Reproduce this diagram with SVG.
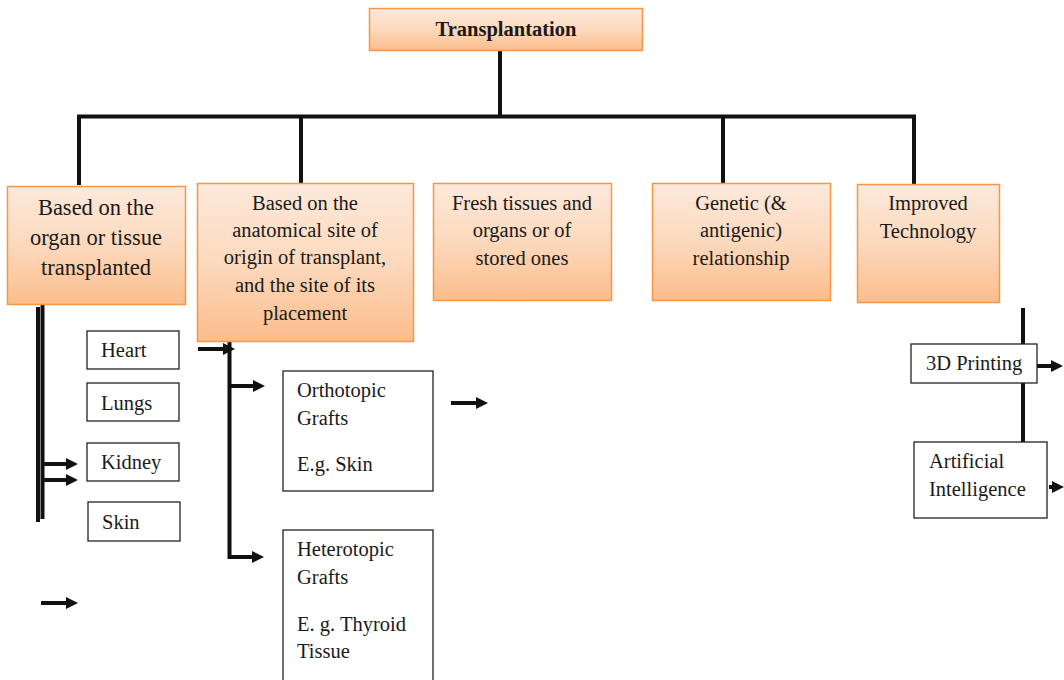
<svg xmlns="http://www.w3.org/2000/svg" width="1064" height="680" viewBox="0 0 1064 680">
<defs>
<linearGradient id="og" x1="0" y1="0" x2="0" y2="1">
<stop offset="0" stop-color="#fde9db"/>
<stop offset="0.5" stop-color="#fcd9bd"/>
<stop offset="1" stop-color="#fbbd8c"/>
</linearGradient>
<marker id="ah" markerWidth="12" markerHeight="14" refX="1" refY="7" orient="auto" markerUnits="userSpaceOnUse">
<path d="M0,1 L12,7 L0,13 Z" fill="#111"/>
</marker>
<style>
.ob{fill:url(#og);stroke:#f79646;stroke-width:1.5}
.wb{fill:#fff;stroke:#222;stroke-width:1.3}
.t{font-family:"Liberation Serif","Times New Roman",serif;fill:#1a1a1a;font-size:20.5px}
.c{text-anchor:middle}
.b1{font-size:22.5px}
.ttl{font-weight:bold;font-size:20.5px}
.ln{stroke:#111;stroke-width:4;fill:none}
.ar{stroke:#111;stroke-width:4;fill:none;marker-end:url(#ah)}
</style>
</defs>
<rect width="1064" height="680" fill="#fff"/>
<g id="connectors">
<path class="ln" d="M500,50 V116"/>
<path class="ln" d="M77,116.5 H916" stroke-width="5"/>
<path class="ln" d="M79,116 V185"/>
<path class="ln" d="M301,116 V183"/>
<path class="ln" d="M723,116 V183"/>
<path class="ln" d="M914,116 V184"/>
<path class="ln" d="M38,307 V522" stroke-width="3.5"/>
<path class="ln" d="M42.5,305 V519" stroke-width="3.5"/>
<path class="ar" d="M44,464 H67"/>
<path class="ar" d="M44,480 H67"/>
<path class="ar" d="M41,603 H67"/>
<path class="ar" d="M198,349 H224"/>
<path class="ln" d="M229.5,341 V557 H254"/>
<path class="ar" d="M250,557 H253"/>
<path class="ar" d="M230,386 H254"/>
<path class="ar" d="M451,403 H477"/>
<path class="ln" d="M1023,308 V443"/>
<path class="ar" d="M1037,366 H1052"/>
<path class="ar" d="M1049,487 H1053"/>
</g>
<g id="n-transplantation">
<rect class="ob" x="369.5" y="8.5" width="273" height="42"/>
<text class="t c ttl" x="506" y="36">Transplantation</text>
</g>
<g id="n-organ">
<rect class="ob" x="7.5" y="186.5" width="178" height="118"/>
<text class="t c b1" x="96" y="215">Based on the</text>
<text class="t c b1" x="96" y="245">organ or tissue</text>
<text class="t c b1" x="96" y="275">transplanted</text>
</g>
<g id="n-anatomical">
<rect class="ob" x="197.5" y="183.5" width="216" height="158"/>
<text class="t c" x="305" y="210">Based on the</text>
<text class="t c" x="305" y="237">anatomical site of</text>
<text class="t c" x="305" y="264">origin of transplant,</text>
<text class="t c" x="305" y="292">and the site of its</text>
<text class="t c" x="305" y="320">placement</text>
</g>
<g id="n-fresh">
<rect class="ob" x="433.5" y="183.5" width="178" height="117"/>
<text class="t c" x="522" y="210">Fresh tissues and</text>
<text class="t c" x="522" y="237">organs or of</text>
<text class="t c" x="522" y="265">stored ones</text>
</g>
<g id="n-genetic">
<rect class="ob" x="652.5" y="183.5" width="178" height="117"/>
<text class="t c" x="741" y="210">Genetic (&amp;</text>
<text class="t c" x="741" y="237">antigenic)</text>
<text class="t c" x="741" y="265">relationship</text>
</g>
<g id="n-technology">
<rect class="ob" x="857.5" y="184.5" width="142" height="118"/>
<text class="t c" x="928" y="210">Improved</text>
<text class="t c" x="928" y="238">Technology</text>
</g>
<g id="n-heart">
<rect class="wb" x="87" y="331" width="92" height="38"/>
<text class="t" x="101" y="357">Heart</text>
</g>
<g id="n-lungs">
<rect class="wb" x="87" y="383" width="92" height="38"/>
<text class="t" x="101" y="410">Lungs</text>
</g>
<g id="n-kidney">
<rect class="wb" x="87" y="443" width="92" height="38"/>
<text class="t" x="101" y="469">Kidney</text>
</g>
<g id="n-skin">
<rect class="wb" x="88" y="502" width="92" height="39"/>
<text class="t" x="102" y="529">Skin</text>
</g>
<g id="n-orthotopic">
<rect class="wb" x="283" y="371" width="150" height="120"/>
<text class="t" x="297" y="397">Orthotopic</text>
<text class="t" x="297" y="425">Grafts</text>
<text class="t" x="297" y="471">E.g. Skin</text>
</g>
<g id="n-heterotopic">
<rect class="wb" x="283" y="530" width="150" height="160"/>
<text class="t" x="297" y="556">Heterotopic</text>
<text class="t" x="297" y="584">Grafts</text>
<text class="t" x="297" y="631">E. g. Thyroid</text>
<text class="t" x="297" y="658">Tissue</text>
</g>
<g id="n-3dprinting">
<rect class="wb" x="911" y="344" width="126" height="39"/>
<text class="t" x="926" y="370">3D Printing</text>
</g>
<g id="n-ai">
<rect class="wb" x="914" y="442" width="133" height="76"/>
<text class="t" x="929" y="468">Artificial</text>
<text class="t" x="929" y="496">Intelligence</text>
</g>
</svg>
